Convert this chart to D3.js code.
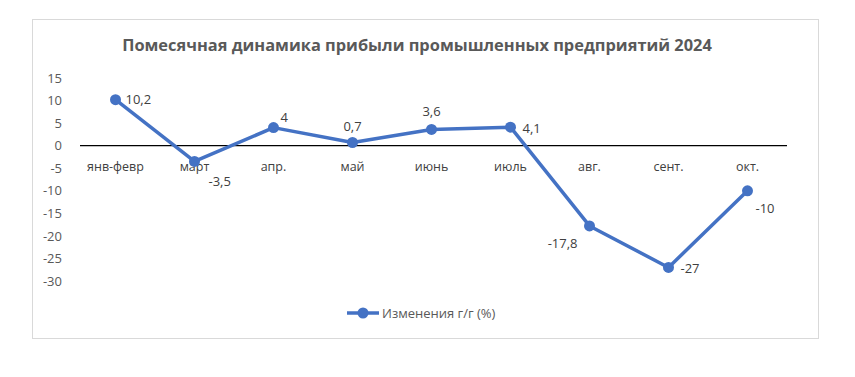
<!DOCTYPE html>
<html>
<head>
<meta charset="utf-8">
<script src="https://cdn.jsdelivr.net/npm/d3@7"></script>
<style>
  body { margin: 0; background: #fff; }
  svg text { font-family: "Open Sans", "Noto Sans", sans-serif; }
</style>
</head>
<body>
<div id="chart"></div>
<script>
const categories = ['янв-февр', 'март', 'апр.', 'май', 'июнь', 'июль', 'авг.', 'сент.', 'окт.'];
const values = [10.2, -3.5, 4, 0.7, 3.6, 4.1, -17.8, -27, -10];
const yTicks = [15, 10, 5, 0, -5, -10, -15, -20, -25, -30];
const seriesName = 'Изменения г/г (%)';
const title = 'Помесячная динамика прибыли промышленных предприятий 2024';

// label placement per point: [dx, dy, anchor]
const labelPos = [
  [10, 4, 'start'], [14, 25, 'start'], [7, -6, 'start'], [0, -12, 'middle'],
  [0, -13, 'middle'], [12, 6, 'start'], [-12, 22, 'end'], [12, 6, 'start'], [8, 22, 'start']
];

const width = 855, height = 377;
const lineColor = '#4472C4';

const svg = d3.select('#chart').append('svg')
  .attr('width', width)
  .attr('height', height);

svg.append('rect')
  .attr('x', 32.5).attr('y', 19.5)
  .attr('width', 786).attr('height', 319)
  .attr('fill', '#fff')
  .attr('stroke', '#d9d9d9');

svg.append('text')
  .attr('x', 417).attr('y', 51)
  .attr('text-anchor', 'middle')
  .attr('font-size', '16.4px')
  .attr('font-weight', 700)
  .attr('fill', '#595959')
  .text(title);

const x = d3.scalePoint()
  .domain(categories)
  .range([76, 787])
  .padding(0.5);

const y = d3.scaleLinear()
  .domain([-30, 15])
  .range([281, 78]);

// y axis labels, no line
const yAxis = svg.append('g')
  .attr('transform', 'translate(70,0)')
  .call(d3.axisLeft(y).tickValues(yTicks).tickSize(0).tickPadding(8)
    .tickFormat(d => d < 0 ? '-' + Math.abs(d) : d));
yAxis.select('.domain').remove();
yAxis.selectAll('text')
  .attr('font-size', '13px')
  .attr('fill', '#595959')
  .style('font-family', '"Open Sans", sans-serif');

// zero line
svg.append('line')
  .attr('x1', 80).attr('x2', 787)
  .attr('y1', y(0)).attr('y2', y(0))
  .attr('stroke', '#000')
  .attr('stroke-width', 1.3);

// category labels
svg.append('g').selectAll('text')
  .data(categories)
  .enter()
  .append('text')
  .attr('x', d => x(d))
  .attr('y', y(0) + 25)
  .attr('text-anchor', 'middle')
  .attr('font-size', '12.5px')
  .attr('fill', '#404040')
  .text(d => d);

const line = d3.line()
  .x((d, i) => x(categories[i]))
  .y(d => y(d));

svg.append('path')
  .datum(values)
  .attr('d', line)
  .attr('fill', 'none')
  .attr('stroke', lineColor)
  .attr('stroke-width', 3.5)
  .attr('stroke-linejoin', 'round');

svg.append('g').selectAll('circle')
  .data(values)
  .enter()
  .append('circle')
  .attr('cx', (d, i) => x(categories[i]))
  .attr('cy', d => y(d))
  .attr('r', 5.5)
  .attr('fill', lineColor);

svg.append('g').selectAll('text')
  .data(values)
  .enter()
  .append('text')
  .attr('x', (d, i) => x(categories[i]) + labelPos[i][0])
  .attr('y', (d, i) => y(d) + labelPos[i][1])
  .attr('text-anchor', (d, i) => labelPos[i][2])
  .attr('font-size', '13px')
  .attr('fill', '#404040')
  .text(d => String(d).replace('.', ','));

// legend
const legend = svg.append('g').attr('transform', 'translate(347,313)');
legend.append('line')
  .attr('x1', 0).attr('x2', 32)
  .attr('stroke', lineColor)
  .attr('stroke-width', 3.5);
legend.append('circle')
  .attr('cx', 16).attr('r', 5.5)
  .attr('fill', lineColor);
legend.append('text')
  .attr('x', 35).attr('y', 5)
  .attr('font-size', '13px')
  .attr('fill', '#595959')
  .text(seriesName);
</script>
</body>
</html>
